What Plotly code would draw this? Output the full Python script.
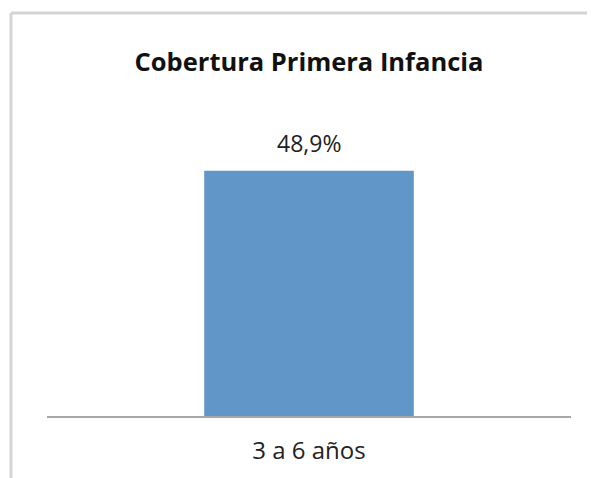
import plotly.graph_objects as go

categorias = ["3 a 6 años"]
cobertura = [48.9]
etiquetas = ["48,9%"]

fig = go.Figure()
fig.add_trace(go.Bar(x=categorias, y=cobertura, width=0.4,
                     marker=dict(color="#6096c8", line=dict(width=0)),
                     hoverinfo="skip"))

# etiqueta de valor encima de la barra
for c, v, t in zip(categorias, cobertura, etiquetas):
    fig.add_annotation(x=c, y=v, text=t, showarrow=False, yanchor="bottom",
                       yshift=10, font=dict(family="Open Sans", size=23, color="#222222"))

# marco del grafico (borde superior e izquierdo)
# la pagina tiene 8px de margen, el grafico se corre 8px
borde = dict(type="line", xref="paper", yref="paper",
             line=dict(color="#d4d4d4", width=3))
fig.add_shape(**borde, x0=-0.0687, x1=1.05, y0=1.339, y1=1.339)
fig.add_shape(**borde, x0=-0.0687, x1=-0.0687, y0=1.339, y1=-0.21)

fig.update_layout(
    width=587, height=470,
    margin=dict(l=39, r=24, t=107, b=62),
    paper_bgcolor="white", plot_bgcolor="white",
    showlegend=False,
    title=dict(text="<b>Cobertura Primera Infancia</b>", x=0.5, xref="paper",
               y=1 - 54 / 470, yref="container", yanchor="middle",
               font=dict(family="Open Sans", size=25.5, color="#111111")),
    xaxis=dict(showline=True, linecolor="#a8a8a8", linewidth=2,
               ticks="", showgrid=False, range=[-0.5, 0.5],
               tickfont=dict(family="Open Sans", size=24, color="#222222"),
               ticklabelstandoff=12),
    yaxis=dict(visible=False, range=[0, 60]),
)

fig.write_html("out.html")
